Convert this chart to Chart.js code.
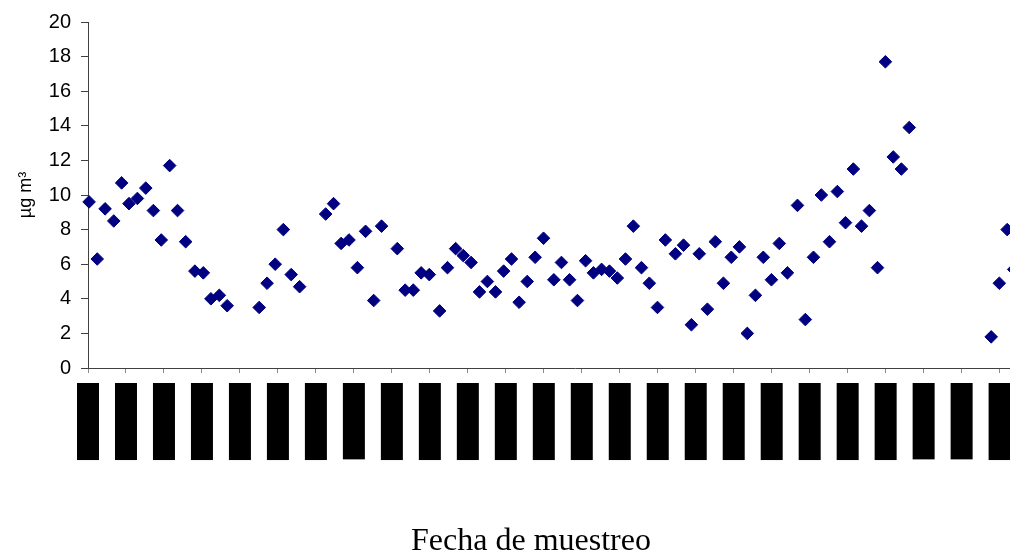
<!DOCTYPE html>
<html>
<head>
<meta charset="utf-8">
<script src="https://cdn.jsdelivr.net/npm/chart.js@4.4.0/dist/chart.umd.min.js"></script>
<style>
  html, body { margin: 0; padding: 0; background: #ffffff; overflow: hidden; }
  #wrap { width: 1063px; height: 554px; }
</style>
</head>
<body>
<div id="wrap"><canvas id="c" width="1063" height="554"></canvas></div>
<script>
// Sampling day (days since first tick)
const sampleDay = [
  0.4, 3.4, 6.3, 9.5, 12.4, 15.1, 18.2, 21.3, 24.1, 27.0, 30.1, 33.0, 36.0, 39.4, 42.5, 45.3, 48.4, 51.3,
  63.1, 66.0, 69.0, 72.0, 74.9, 78.0,
  87.6, 90.5, 93.3, 96.2, 99.3, 102.3, 105.3, 108.2,
  114.0, 116.9, 119.9, 122.8, 125.8, 129.6, 132.5, 135.5, 138.3, 141.2, 144.3, 147.2, 150.2, 153.2, 156.1,
  158.9, 161.9, 164.8, 167.9, 171.7, 174.5, 177.5, 180.4, 183.4, 186.3, 189.3, 192.2, 195.1, 198.1, 201.0,
  204.0, 206.9, 209.9, 212.8, 216.5, 219.5, 222.4, 225.3, 228.3, 231.2, 234.2, 237.1, 240.1, 243.0, 246.0,
  248.9, 251.9, 254.8, 257.8, 261.5, 264.4, 267.4, 270.3, 273.3, 276.2, 279.2, 282.1, 285.1, 288.0, 291.0,
  293.9, 296.8, 299.8, 302.7,
  332.9, 335.9, 338.8, 341.2
];
// Concentration (µg m-3)
const concentration = [
  9.6, 6.3, 9.2, 8.5, 10.7, 9.5, 9.8, 10.4, 9.1, 7.4, 11.7, 9.1, 7.3, 5.6, 5.5, 4.0, 4.2, 3.6,
  3.5, 4.9, 6.0, 8.0, 5.4, 4.7,
  8.9, 9.5, 7.2, 7.4, 5.8, 7.9, 3.9, 8.2,
  6.9, 4.5, 4.5, 5.5, 5.4, 3.3, 5.8, 6.9, 6.5, 6.1, 4.4, 5.0, 4.4, 5.6, 6.3,
  3.8, 5.0, 6.4, 7.5, 5.1, 6.1, 5.1, 3.9, 6.2, 5.5, 5.7, 5.6, 5.2, 6.3, 8.2,
  5.8, 4.9, 3.5, 7.4, 6.6, 7.1, 2.5, 6.6, 3.4, 7.3, 4.9, 6.4, 7.0, 2.0, 4.2,
  6.4, 5.1, 7.2, 5.5, 9.4, 2.8, 6.4, 10.0, 7.3, 10.2, 8.4, 11.5, 8.2, 9.1, 5.8,
  17.7, 12.2, 11.5, 13.9,
  1.8, 4.9, 8.0, 5.7
];
// Date axis ticks (every 14 days)
const tickDays = [0, 14, 28, 42, 56, 70, 84, 98, 112, 126, 140, 154, 168, 182, 196, 210, 224, 238, 252, 266, 280, 294, 308, 322, 336, 350];
const tickLabels = [
  '03/01/2005', '17/01/2005', '31/01/2005', '14/02/2005', '28/02/2005', '14/03/2005', '28/03/2005',
  '11/04/2005', '25/04/2005', '09/05/2005', '23/05/2005', '06/06/2005', '20/06/2005', '04/07/2005',
  '18/07/2005', '01/08/2005', '15/08/2005', '29/08/2005', '12/09/2005', '26/09/2005', '10/10/2005',
  '24/10/2005', '07/11/2005', '21/11/2005', '05/12/2005', '19/12/2005'
];
const yTicks = [0, 2, 4, 6, 8, 10, 12, 14, 16, 18, 20];

const points = sampleDay.map((d, i) => ({ x: d, y: concentration[i] }));

new Chart(document.getElementById('c'), {
  type: 'scatter',
  data: {
    datasets: [{
      data: points,
      pointStyle: 'rectRot',
      pointRadius: 6.3,
      pointHoverRadius: 6.3,
      borderWidth: 1,
      backgroundColor: '#000080',
      borderColor: '#000080',
      showLine: false,
      clip: false
    }]
  },
  options: {
    responsive: false,
    animation: false,
    devicePixelRatio: 1,
    layout: { autoPadding: false, padding: { top: 20, right: 1, bottom: 0, left: 0 } },
    plugins: {
      legend: { display: false },
      tooltip: { enabled: false },
      title: {
        display: true,
        position: 'bottom',
        text: 'Fecha de muestreo',
        color: '#000000',
        font: { family: "'Liberation Serif', 'Times New Roman', serif", size: 32, weight: 'normal', lineHeight: 0.75 },
        padding: { top: 0, bottom: 0 }
      }
    },
    scales: {
      x: {
        type: 'linear',
        min: 0,
        max: 359,
        afterBuildTicks: (scale) => { scale.ticks = tickDays.map(v => ({ value: v })); },
        afterFit: (scale) => { scale.height = 162; scale.paddingLeft = 0; scale.paddingRight = 0; },
        border: { display: true, color: '#404040', width: 1 },
        grid: { display: true, drawOnChartArea: false, drawTicks: true, tickLength: 5, tickColor: '#8a8a8a' },
        ticks: {
          autoSkip: false,
          minRotation: 90,
          maxRotation: 90,
          padding: 10,
          color: '#000000',
          font: { family: "'Liberation Sans', Arial, sans-serif", size: 9, lineHeight: 1.2 },
          showLabelBackdrop: true,
          backdropColor: '#000000',
          backdropPadding: { top: 11, bottom: 0.2, left: 32, right: 0 },
          callback: (value, index) => tickLabels[index]
        }
      },
      y: {
        min: 0,
        max: 20,
        afterBuildTicks: (scale) => { scale.ticks = yTicks.map(v => ({ value: v })); },
        afterFit: (scale) => { scale.width = 88; },
        border: { display: true, color: '#404040', width: 1 },
        grid: { display: true, drawOnChartArea: false, drawTicks: true, tickLength: 7, tickColor: '#404040' },
        ticks: {
          padding: 10,
          color: '#000000',
          font: { family: "'Liberation Sans', Arial, sans-serif", size: 20 }
        },
        title: {
          display: true,
          text: 'µg m³',
          color: '#000000',
          font: { family: "'Liberation Sans', Arial, sans-serif", size: 18, lineHeight: 1.2 },
          padding: { top: 15, bottom: 0 }
        }
      }
    }
  }
});
</script>
</body>
</html>
